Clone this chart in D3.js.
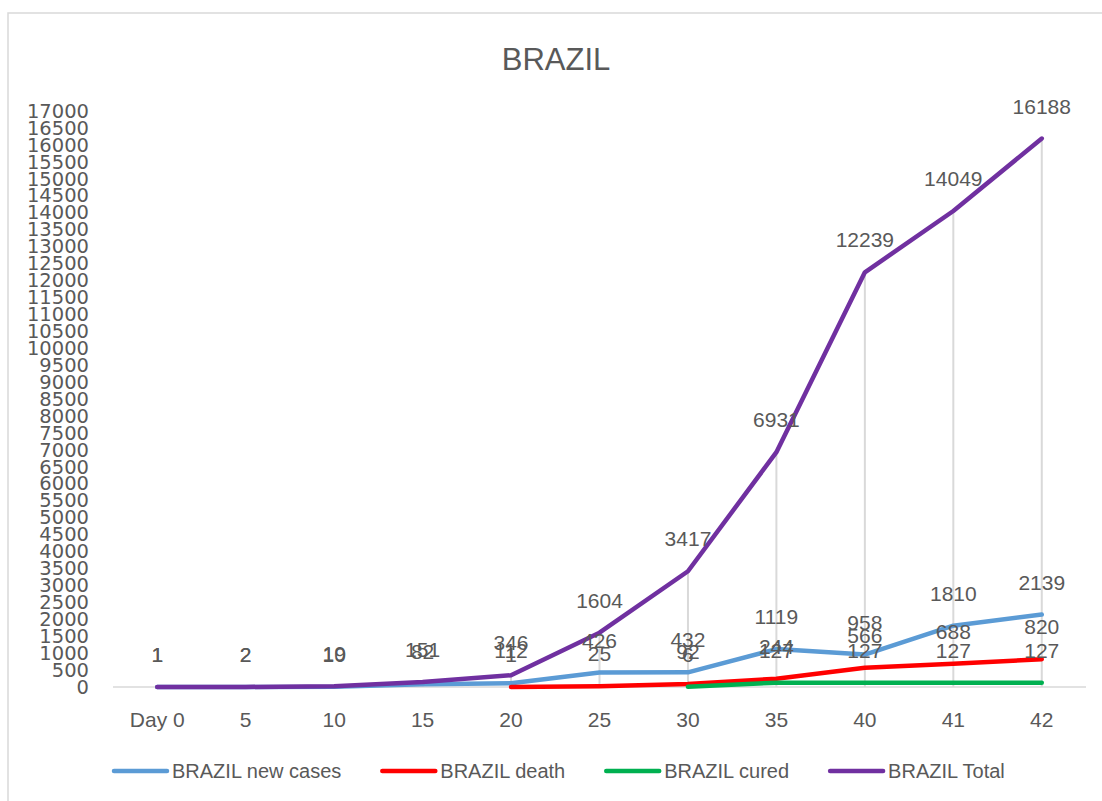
<!DOCTYPE html>
<html><head><meta charset="utf-8">
<script src="https://cdn.jsdelivr.net/npm/d3@7"></script>
<style>body{margin:0;background:#fff}svg{display:block}</style>
</head><body>
<svg id="c" width="1102" height="801"></svg>
<script>
const categories = ["Day 0","5","10","15","20","25","30","35","40","41","42"];
const newCases = [1,2,10,82,112,426,432,1119,958,1810,2139];
const deaths   = [null,null,null,null,1,25,92,244,566,688,820];
const cured    = [null,null,null,null,null,null,6,127,127,127,127];
const total    = [1,2,19,151,346,1604,3417,6931,12239,14049,16188];
const yTicks = d3.range(0,17001,500);
const seriesNames = ["BRAZIL new cases","BRAZIL death","BRAZIL cured","BRAZIL Total"];
const seriesColors = ["#5B9BD5","#FF0000","#00B050","#7030A0"];
const seriesData = [newCases,deaths,cured,total];

const svg = d3.select("#c");
const gray = "#595959";
// frame
svg.append("rect").attr("x",8).attr("y",13).attr("width",1200).attr("height",900)
  .attr("fill","none").attr("stroke","#d9d9d9").attr("stroke-width",1.5);

svg.append("text").attr("x",556).attr("y",70).attr("text-anchor","middle")
  .attr("font-family","Liberation Sans").attr("font-size",31).attr("fill",gray).text("BRAZIL");

const x = d3.scaleBand().domain(categories).range([113,1086]);
const y = d3.scaleLinear().domain([0,17000]).range([687,111]);
const cx = c => x(c)+x.bandwidth()/2;

// y tick labels
const yAxis = d3.axisLeft(y).tickValues(yTicks).tickFormat(d3.format("d")).tickSize(0).tickPadding(0);
const ya = svg.append("g").attr("transform","translate(89,0)").call(yAxis);
ya.select(".domain").remove();
ya.selectAll("text").attr("font-family","DejaVu Sans").attr("font-size",19.5).attr("fill",gray);

// x axis labels
const xAxis = d3.axisBottom(x).tickSize(0).tickPadding(0);
const xa = svg.append("g").attr("transform","translate(0,687)").call(xAxis);
xa.select(".domain").remove();
xa.selectAll("text").attr("font-family","Liberation Sans").attr("font-size",21).attr("fill",gray)
  .attr("dy",null).attr("y",40);

// baseline
svg.append("line").attr("x1",113).attr("x2",1086).attr("y1",y(0)).attr("y2",y(0))
  .attr("stroke","#d9d9d9").attr("stroke-width",1.5);

// drop lines
categories.forEach((c,i)=>{
  const m = d3.max(seriesData, s=>s[i]);
  svg.append("line").attr("x1",cx(c)).attr("x2",cx(c)).attr("y1",y(m)).attr("y2",y(0))
    .attr("stroke","#d9d9d9").attr("stroke-width",2);
});

// lines
seriesData.forEach((s,k)=>{
  const line = d3.line().defined(d=>d!=null).x((d,i)=>cx(categories[i])).y(d=>y(d));
  svg.append("path").attr("d",line(s)).attr("fill","none").attr("stroke",seriesColors[k])
    .attr("stroke-width",4.5).attr("stroke-linejoin","round").attr("stroke-linecap","round");
});

// data labels
seriesData.forEach((s,k)=>{
  s.forEach((v,i)=>{
    if(v==null) return;
    svg.append("text").attr("x",cx(categories[i])).attr("y",y(v)-25).attr("text-anchor","middle")
      .attr("font-family","Liberation Sans").attr("font-size",21).attr("fill",gray).text(v);
  });
});

// legend
let lx = 114;
const ly = 771;
seriesNames.forEach((n,k)=>{
  svg.append("line").attr("x1",lx).attr("x2",lx+53).attr("y1",ly).attr("y2",ly)
    .attr("stroke",seriesColors[k]).attr("stroke-width",4.5).attr("stroke-linecap","round");
  const t = svg.append("text").attr("x",lx+58).attr("y",ly+7).attr("font-family","Liberation Sans")
    .attr("font-size",20).attr("fill",gray).text(n);
  lx = lx+58+t.node().getComputedTextLength()+41;
});
</script>
</body></html>
